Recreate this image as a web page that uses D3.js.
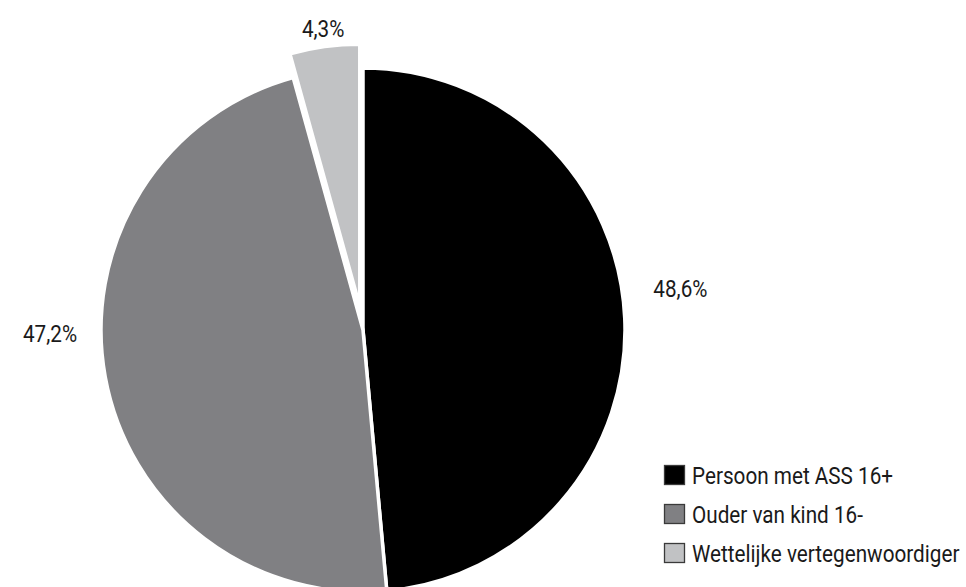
<!DOCTYPE html>
<html>
<head>
<meta charset="utf-8">
<script src="https://cdn.jsdelivr.net/npm/d3@7"></script>
<style>
  html, body { margin: 0; padding: 0; background: #fff; }
  svg { display: block; }
  text { font-family: "Roboto", "Liberation Sans", sans-serif; fill: #1a1a1a; }
</style>
</head>
<body>
<svg id="chart" width="966" height="587"></svg>
<script>
const categories = ["Persoon met ASS 16+", "Ouder van kind 16-", "Wettelijke vertegenwoordiger"];
const values = [48.6, 47.2, 4.3];
const labels = ["48,6%", "47,2%", "4,3%"];
const colors = ["#000000", "#808083", "#c1c2c4"];
const exploded = [0, 0, 24];
const labelAngleNudge = [-4.7, 9.6, 0.2];
const labelRadiusNudge = [7, 0, -9];

const svg = d3.select("#chart");
const cx = 363, cy = 330, R = 262;
const condense = 0.9;

const pie = d3.pie().sort(null).value(d => d)(values);
const arc = d3.arc().innerRadius(0).outerRadius(R);

const g = svg.append("g").attr("transform", `translate(${cx},${cy})`);

g.selectAll("path.slice").data(pie).enter().append("path")
  .attr("class", "slice")
  .attr("d", arc)
  .attr("fill", (d, i) => colors[i])
  .attr("stroke", "#fff")
  .attr("stroke-width", 3.5)
  .attr("stroke-linejoin", "miter")
  .attr("transform", (d, i) => {
    const a = (d.startAngle + d.endAngle) / 2;
    return `translate(${Math.sin(a) * exploded[i]},${-Math.cos(a) * exploded[i]})`;
  });

const labelR = 313;
g.selectAll("g.lbl").data(pie).enter().append("g")
  .attr("class", "lbl")
  .attr("transform", (d, i) => {
    const a = (d.startAngle + d.endAngle) / 2 + labelAngleNudge[i] * Math.PI / 180;
    const r = labelR + labelRadiusNudge[i];
    return `translate(${Math.sin(a) * r},${-Math.cos(a) * r}) scale(${condense},1)`;
  })
  .append("text")
  .attr("text-anchor", "middle")
  .attr("dominant-baseline", "central")
  .attr("font-size", 23)
  .text((d, i) => labels[i]);

// legend
const legend = svg.append("g").attr("transform", "translate(664,475)");
const rowH = 39;
const rows = legend.selectAll("g").data(categories).enter().append("g")
  .attr("transform", (d, i) => `translate(0,${i * rowH})`);
rows.append("rect")
  .attr("x", 0.5).attr("y", -9.5)
  .attr("width", 20).attr("height", 19)
  .attr("fill", (d, i) => colors[i])
  .attr("stroke", "#3a3a3a").attr("stroke-width", 1.3);
rows.append("g")
  .attr("transform", `translate(28,1) scale(${condense},1)`)
  .append("text")
  .attr("dominant-baseline", "central")
  .attr("font-size", 23)
  .text(d => d);
</script>
</body>
</html>
